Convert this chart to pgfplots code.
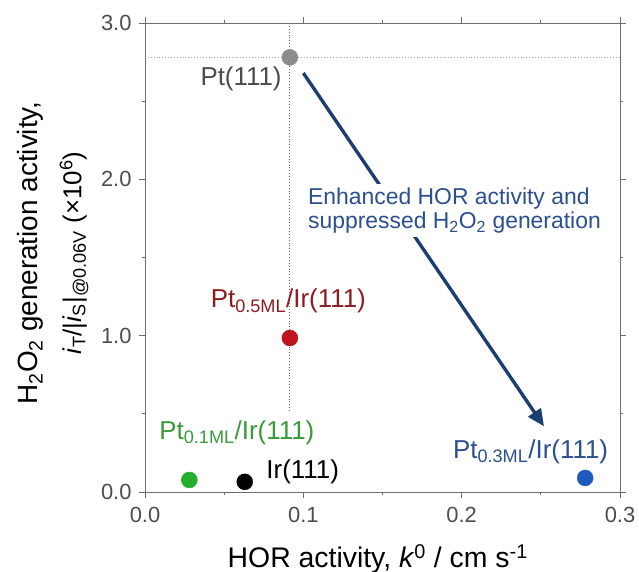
\documentclass[border=0pt]{standalone}
\usepackage{fontspec}
\setmainfont{Liberation Sans}
\usepackage{pgfplots}
\pgfplotsset{compat=1.18}
\usetikzlibrary{arrows.meta}
\definecolor{ptgrey}{HTML}{8C8C8C}
\definecolor{ptred}{HTML}{C0141C}
\definecolor{ptredtxt}{HTML}{8E1B1F}
\definecolor{ptgreen}{HTML}{22B02A}
\definecolor{ptgreentxt}{HTML}{3A9A3A}
\definecolor{ptblue}{HTML}{1E5BBF}
\definecolor{ptbluetxt}{HTML}{2B4F8F}
\definecolor{arrowblue}{HTML}{1B3F73}
\definecolor{axisgrey}{HTML}{6E6E6E}
\definecolor{ticktxt}{HTML}{4D4D4D}
\begin{document}
\begin{tikzpicture}
\begin{axis}[
  scale only axis, width=475bp, height=469bp,
  xmin=0, xmax=0.3, ymin=0, ymax=3,
  xtick={0,0.1,0.2,0.3}, ytick={0,1,2,3},
  minor x tick num=1, minor y tick num=1,
  xticklabels={0.0,0.1,0.2,0.3}, yticklabels={0.0,1.0,2.0,3.0},
  tick align=outside, major tick length=6bp, minor tick length=3bp,
  axis line style={axisgrey, line width=0.9pt},
  every tick/.style={axisgrey, line width=0.8pt},
  tick label style={font=\fontsize{22}{26}\selectfont, text=ticktxt},
  xticklabel style={yshift=-6bp},
  yticklabel style={xshift=-4bp},
  /pgf/number format/assume math mode=true,
  xlabel={HOR activity, \textit{k}\textsuperscript{0} / cm s\textsuperscript{-1}},
  ylabel={H\textsubscript{2}O\textsubscript{2} generation activity,\\[12bp] {\fontsize{26}{30}\selectfont\textit{i}\textsubscript{T}/|\textit{i}\textsubscript{S}|\textsubscript{@0.06V} (×10\textsuperscript{6})}},
  xlabel style={font=\fontsize{28.5}{32}\selectfont, at={(axis description cs:0.49,0)}, anchor=base, yshift=-75bp},
  ylabel style={font=\fontsize{28}{32}\selectfont, align=center, at={(axis description cs:-0.194,0.51)}, anchor=center},
  clip=false]
% guide lines through Pt(111)
\draw[ptgrey!80, dotted, line width=0.9pt] (axis cs:0,2.78) -- (axis cs:0.3,2.78);
\draw[ptgrey!70!black, dotted, line width=0.9pt] (axis cs:0.0915,3) -- (axis cs:0.0915,0.52);
% trend arrow
\draw[arrowblue, line width=3.4pt, -{Triangle[length=17bp,width=15bp]}] (axis cs:0.1,2.68) -- (axis cs:0.252,0.42);
\node[anchor=west, fill=white, inner sep=3bp, align=left, text=ptbluetxt,
  font=\fontsize{23}{25}\selectfont] at (axis cs:0.101,1.80)
  {Enhanced HOR activity and\\suppressed H\textsubscript{2}O\textsubscript{2} generation};
% data points
\addplot[only marks, mark=*, mark size=8bp, ptgrey] coordinates {(0.0915,2.78)};
\addplot[only marks, mark=*, mark size=8bp, ptred] coordinates {(0.0915,0.985)};
\addplot[only marks, mark=*, mark size=8bp, ptgreen] coordinates {(0.028,0.077)};
\addplot[only marks, mark=*, mark size=8bp, black] coordinates {(0.063,0.065)};
\addplot[only marks, mark=*, mark size=8bp, ptblue] coordinates {(0.278,0.09)};
% labels
\node[anchor=east, text=ticktxt, font=\fontsize{26}{30}\selectfont] at (axis cs:0.0885,2.64) {Pt(111)};
\node[text=ptredtxt, font=\fontsize{26}{30}\selectfont] at (axis cs:0.0905,1.22) {Pt\textsubscript{0.5ML}/Ir(111)};
\node[text=ptgreentxt, font=\fontsize{26}{30}\selectfont] at (axis cs:0.058,0.38) {Pt\textsubscript{0.1ML}/Ir(111)};
\node[anchor=west, text=black, font=\fontsize{26}{30}\selectfont] at (axis cs:0.0745,0.128) {Ir(111)};
\node[text=ptbluetxt, font=\fontsize{26}{30}\selectfont] at (axis cs:0.2435,0.256) {Pt\textsubscript{0.3ML}/Ir(111)};
\coordinate (sw) at (rel axis cs:0,0);
\coordinate (ne) at (rel axis cs:1,1);
\end{axis}
\pgfresetboundingbox
\path[use as bounding box] ([shift={(-145bp,-80bp)}]sw) rectangle ([shift={(19bp,23bp)}]ne);
\end{tikzpicture}
\end{document}
